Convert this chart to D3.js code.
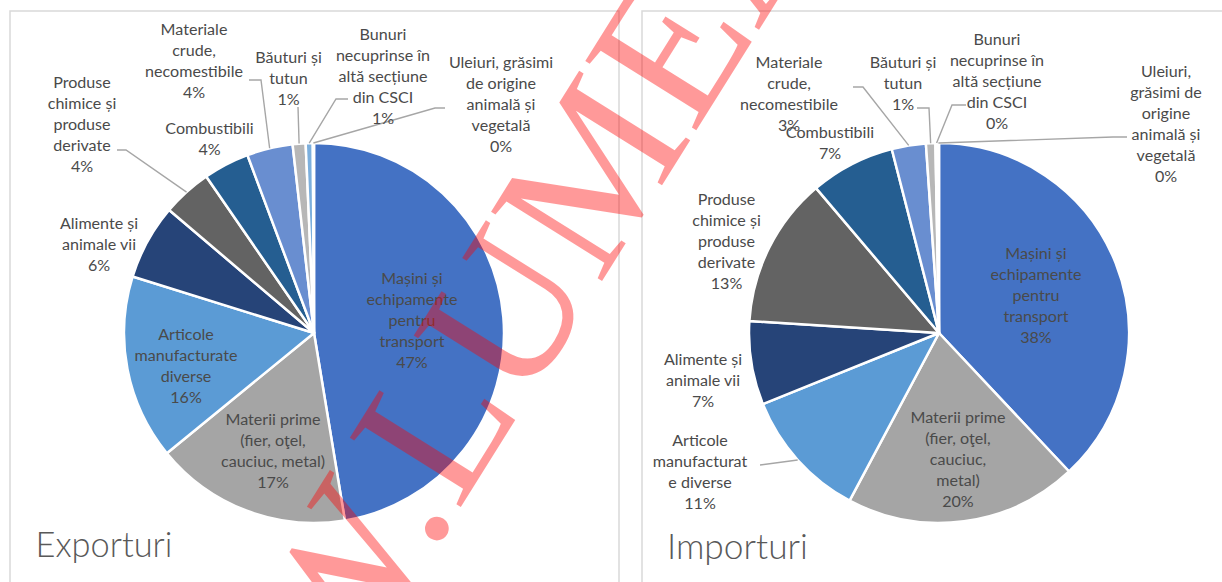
<!DOCTYPE html>
<html><head><meta charset="utf-8">
<script src="https://cdn.jsdelivr.net/npm/d3@7"></script>
<style>
html,body{margin:0;padding:0;background:#fff;}
svg{display:block;}
</style></head><body>
<svg id="chart" width="1222" height="582"></svg>
<script>
// ---------- DATA ----------
const categories = [
  "Mașini și echipamente pentru transport",
  "Materii prime (fier, oţel, cauciuc, metal)",
  "Articole manufacturate diverse",
  "Alimente și animale vii",
  "Produse chimice și produse derivate",
  "Combustibili",
  "Materiale crude, necomestibile",
  "Băuturi și tutun",
  "Bunuri necuprinse în altă secțiune din CSCI",
  "Uleiuri, grăsimi de origine animală și vegetală"
];
const exportValues = [47.4, 16.7, 15.7, 6.4, 4.2, 3.9, 3.9, 1.1, 0.6, 0.1];
const importValues = [38.0, 19.8, 11.1, 7.1, 12.8, 7.2, 2.9, 0.8, 0.2, 0.1];
const chartTitles = ["Exporturi", "Importuri"];
const watermarkText = "WWW.LUMEAJUSTITIEI.RO";

// wrapped label lines (as in the original)
const exportLabelLines = [
  ["Mașini și", "echipamente", "pentru", "transport"],
  ["Materii prime", "(fier, oţel,", "cauciuc, metal)"],
  ["Articole", "manufacturate", "diverse"],
  ["Alimente și", "animale vii"],
  ["Produse", "chimice și", "produse", "derivate"],
  ["Combustibili"],
  ["Materiale", "crude,", "necomestibile"],
  ["Băuturi și", "tutun"],
  ["Bunuri", "necuprinse în", "altă secțiune", "din CSCI"],
  ["Uleiuri, grăsimi", "de origine", "animală și", "vegetală"]
];
const importLabelLines = [
  ["Mașini și", "echipamente", "pentru", "transport"],
  ["Materii prime", "(fier, oţel,", "cauciuc,", "metal)"],
  ["Articole", "manufacturat", "e diverse"],
  ["Alimente și", "animale vii"],
  ["Produse", "chimice și", "produse", "derivate"],
  ["Combustibili"],
  ["Materiale", "crude,", "necomestibile"],
  ["Băuturi și", "tutun"],
  ["Bunuri", "necuprinse în", "altă secțiune", "din CSCI"],
  ["Uleiuri,", "grăsimi de", "origine", "animală și", "vegetală"]
];

// ---------- STYLE / LAYOUT ----------
const sliceColors = ["#4472C4", "#A5A5A5", "#5B9BD5", "#264478", "#636363",
                     "#255E91", "#698ED0", "#B7B7B7", "#7CAFDD", "#335AA1"];
const labelColor = "#4A4A4A";
const leaderColor = "#A6A6A6";
const lineGap = 21;

const layouts = [
  {
    frame: {x: 10, y: 11, w: 609, h: 620},
    cx: 314, cy: 333, r: 190,
    title: {x: 35.5, y: 557, w: 137},
    labelPos: [[98, -13], [-41, 117.5], [-128, 33], [-215, -89], [-232, -208.5],
               [-104.5, -194.5], [-120, -272.5], [-25.5, -255], [69, -256.5], [187, -229]],
    leaders: [null, null, null, null, [[-197, -183], [-188, -183]], null,
              [[-65, -253], [-53, -253]], [[-16, -226]], [[34, -234], [22, -234]],
              [[131, -225], [121, -225]]]
  },
  {
    frame: {x: 642, y: 11, w: 700, h: 620},
    cx: 939, cy: 333, r: 190,
    title: {x: 667, y: 559, w: 141},
    labelPos: [[97, -38], [19, 126], [-239, 139], [-236, 47], [-212.5, -92],
               [-109, -190], [-150, -239], [-36, -249.5], [58, -252], [227, -209.5]],
    leaders: [null, null, [[-179, 132]], null, null, null,
              [[-86, -246], [-76, -246]], [[-22, -225], [-10, -225]],
              [[27, -228], [13, -228]], [[188, -196], [174, -196]]]
  }
];

const svg = d3.select("#chart");
const FONT = "Lato, 'Open Sans', sans-serif";

function fitSize(str, family, weight, target, base) {
  const t = svg.append("text").attr("font-family", family).attr("font-weight", weight)
    .attr("font-size", base).text(str);
  const w = t.node().getComputedTextLength();
  t.remove();
  return base * target / w;
}
const labelSize = fitSize("Materii prime", FONT, 400, 95, 16);

const pie = d3.pie().sort(null).value(d => d);

[exportValues, importValues].forEach((vals, ci) => {
  const L = layouts[ci];
  const lines = ci === 0 ? exportLabelLines : importLabelLines;

  svg.append("rect")
    .attr("x", L.frame.x).attr("y", L.frame.y)
    .attr("width", L.frame.w).attr("height", L.frame.h)
    .attr("fill", "none").attr("stroke", "#D9D9D9").attr("stroke-width", 1.5);

  const g = svg.append("g").attr("transform", `translate(${L.cx},${L.cy})`);
  const arcs = pie(vals);
  const arc = d3.arc().innerRadius(0).outerRadius(L.r);
  const edge = d3.arc().innerRadius(L.r).outerRadius(L.r);

  g.selectAll("path.slice").data(arcs).join("path")
    .attr("class", "slice")
    .attr("d", arc)
    .attr("fill", (d, i) => sliceColors[i])
    .attr("stroke", "#fff").attr("stroke-width", 2.5).attr("stroke-linejoin", "round");

  arcs.forEach((d, i) => {
    const ld = L.leaders[i];
    if (!ld) return;
    const pts = ld.concat([edge.centroid(d)]);
    g.append("path")
      .attr("d", d3.line()(pts))
      .attr("fill", "none").attr("stroke", leaderColor).attr("stroke-width", 1.4);
  });

  arcs.forEach((d, i) => {
    const txt = lines[i].concat([`${Math.round(vals[i])}%`]);
    const [dx, dy] = L.labelPos[i];
    const y0 = dy - (txt.length - 1) * lineGap / 2;
    const t = g.append("text")
      .attr("font-family", FONT).attr("font-size", labelSize)
      .attr("fill", labelColor).attr("text-anchor", "middle");
    txt.forEach((s, k) => {
      t.append("tspan").attr("x", dx).attr("y", y0 + k * lineGap).attr("dy", "0.36em").text(s);
    });
  });

  const ts = fitSize(chartTitles[ci], FONT, 300, L.title.w, 36);
  svg.append("text")
    .attr("x", L.title.x).attr("y", L.title.y)
    .attr("font-family", FONT).attr("font-weight", 300).attr("font-size", ts)
    .attr("fill", "#595959").text(chartTitles[ci]);
});

// watermark
const wmSize = 200;
const wg = svg.append("g").attr("transform", "translate(436,528) rotate(-58)")
  .style("pointer-events", "none");
const wt = wg.append("text")
  .attr("font-family", "'Liberation Serif', 'Times New Roman', serif")
  .attr("font-size", wmSize)
  .attr("fill", "#FF0000").attr("fill-opacity", 0.4)
  .text(watermarkText);
const dotIdx = watermarkText.indexOf(".");
const ext = wt.node().getExtentOfChar(dotIdx);
wt.attr("x", -(ext.x + ext.width / 2)).attr("y", wmSize * 0.05);
</script>
</body></html>
